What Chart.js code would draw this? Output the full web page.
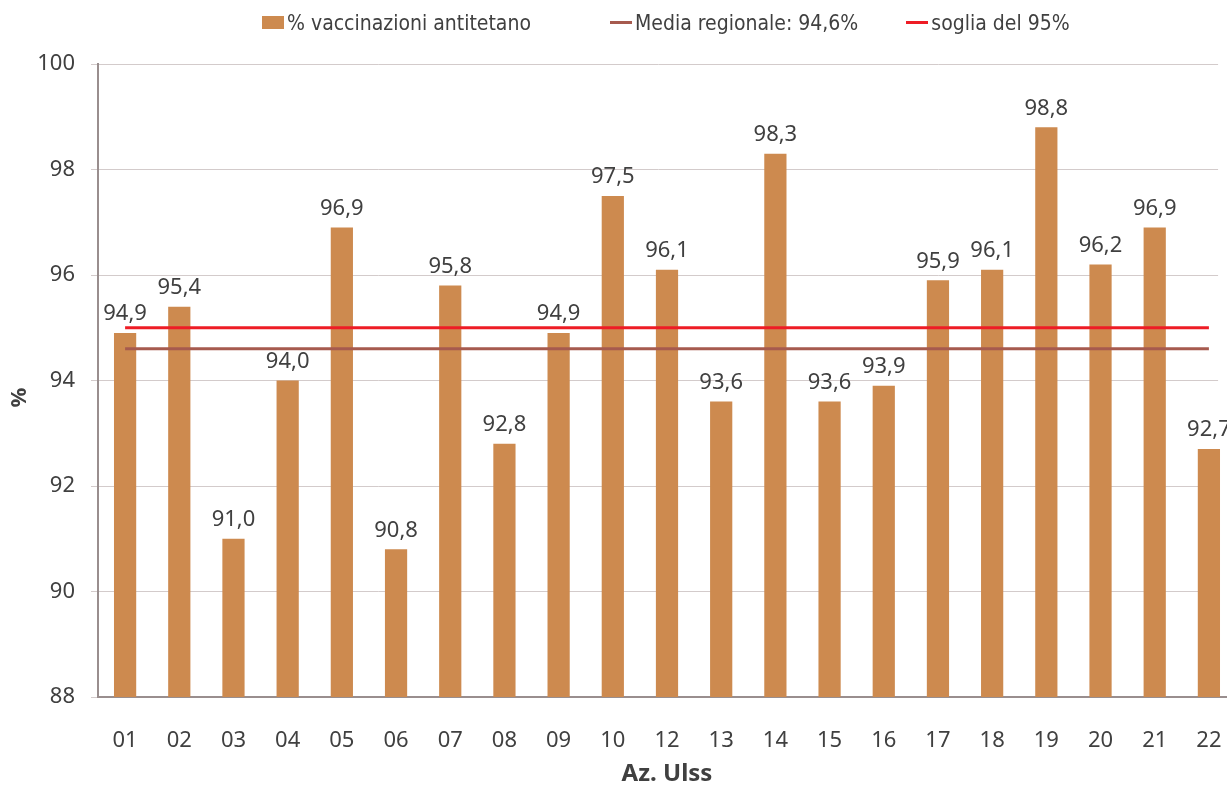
<!DOCTYPE html>
<html>
<head>
<meta charset="utf-8">
<script src="https://cdn.jsdelivr.net/npm/chart.js@4/dist/chart.umd.min.js"></script>
<style>
html,body{margin:0;padding:0;background:#fff;overflow:hidden;}
#wrap{position:relative;width:1227px;height:785px;}
#legend{position:absolute;left:262px;top:9px;height:27px;display:flex;align-items:center;font-family:"DejaVu Sans Condensed","Liberation Sans Narrow",sans-serif;font-size:21px;color:#404040;white-space:nowrap;}
#legend .item{display:flex;align-items:center;}
#legend .sw{display:inline-block;width:22px;margin-right:3px;}
</style>
</head>
<body>
<div id="wrap">
  <canvas id="myChart"></canvas>
  <div id="legend"></div>
</div>
<script>
var ULSS=['01','02','03','04','05','06','07','08','09','10','12','13','14','15','16','17','18','19','20','21','22'];
var VACCINAZIONI=[94.9,95.4,91.0,94.0,96.9,90.8,95.8,92.8,94.9,97.5,96.1,93.6,98.3,93.6,93.9,95.9,96.1,98.8,96.2,96.9,92.7];
var MEDIA_REGIONALE=94.6;
var SOGLIA=95;

var TEXT_COLOR='#404040';
var FONT_TICKS='"Noto Sans", "Open Sans", sans-serif';

function virgola(v){
    return v.toFixed(1).replace('.', ',');
}

// etichette sopra le barre
var barLabels={
    id:'barLabels',
    afterDatasetsDraw:function(chart){
        var ctx=chart.ctx;
        var meta=chart.getDatasetMeta(0);
        ctx.save();
        ctx.font='22px '+FONT_TICKS;
        ctx.fillStyle=TEXT_COLOR;
        ctx.textAlign='center';
        ctx.textBaseline='middle';
        meta.data.forEach(function(bar,i){
            ctx.fillText(virgola(VACCINAZIONI[i]), bar.x, bar.y-19);
        });
        ctx.restore();
    }
};

// l'asse x prosegue oltre il bordo destro (grafico tagliato come nell'originale)
var xOltreBordo={
    id:'xOltreBordo',
    beforeDatasetsUpdate:function(chart){
        var x=chart.scales.x;
        x.right=chart.width+9;
        x.width=x.right-x.left;
        x.configure();
    }
};

var ctx=document.getElementById('myChart');
var myChart=new Chart(ctx,{
    type:'bar',
    data:{
        labels:ULSS,
        datasets:[
            {
                label:'% vaccinazioni antitetano',
                data:VACCINAZIONI,
                backgroundColor:'#CD8A4F',
                barPercentage:0.41,
                categoryPercentage:1.0,
                order:3
            },
            {
                type:'line',
                label:'Media regionale: 94,6%',
                data:ULSS.map(function(){return MEDIA_REGIONALE;}),
                borderColor:'#A65A4E',
                backgroundColor:'#A65A4E',
                borderWidth:3,
                pointRadius:0,
                order:2
            },
            {
                type:'line',
                label:'soglia del 95%',
                data:ULSS.map(function(){return SOGLIA;}),
                borderColor:'#EE1C25',
                backgroundColor:'#EE1C25',
                borderWidth:3,
                pointRadius:0,
                order:1
            }
        ]
    },
    options:{
        responsive:true,
        maintainAspectRatio:false,
        animation:false,
        layout:{padding:{top:64}},
        plugins:{
            tooltip:{enabled:false},
            legend:{display:false}
        },
        scales:{
            x:{
                grid:{display:false},
                border:{display:true,color:'#998E8E',width:2},
                ticks:{color:TEXT_COLOR,font:{family:FONT_TICKS,size:22},padding:23},
                title:{display:true,text:'Az. Ulss',color:TEXT_COLOR,font:{family:FONT_TICKS,size:24,weight:'bold'},padding:{top:0,bottom:-4}},
                afterFit:function(scale){scale.height=88;}
            },
            y:{
                min:88,
                max:100,
                ticks:{stepSize:2,color:TEXT_COLOR,font:{family:FONT_TICKS,size:22},padding:16},
                grid:{color:'#D3CBCB',lineWidth:1,tickLength:7},
                border:{display:true,color:'#998E8E',width:2},
                title:{display:true,text:'%\u00a0\u00a0\u00a0\u00a0\u00a0\u00a0',color:TEXT_COLOR,font:{family:FONT_TICKS,size:22,weight:'bold'},padding:{top:7,bottom:0}},
                afterFit:function(scale){scale.width=98;}
            }
        }
    },
    plugins:[barLabels,xOltreBordo]
});

// legenda in HTML, con le voci dei dataset
var LEGEND_GAPS=[0,79,48];
var legend=document.getElementById('legend');
myChart.data.datasets.forEach(function(ds,i){
    var item=document.createElement('div');
    item.className='item';
    item.style.marginLeft=LEGEND_GAPS[i]+'px';
    var sw=document.createElement('span');
    sw.className='sw';
    if(i===0){
        sw.style.height='13px';
        sw.style.background=ds.backgroundColor;
    }else{
        sw.style.height='3px';
        sw.style.background=ds.borderColor;
    }
    item.appendChild(sw);
    item.appendChild(document.createTextNode(ds.label));
    legend.appendChild(item);
});
</script>
</body>
</html>
